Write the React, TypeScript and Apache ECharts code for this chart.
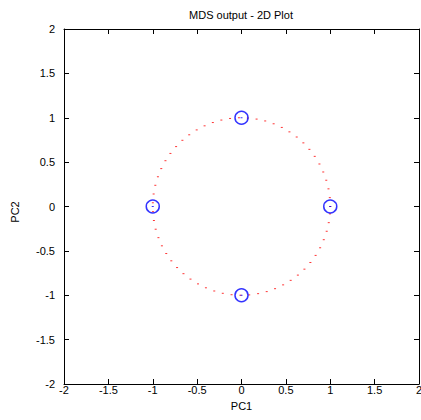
import React, { useEffect, useRef } from "react";
import * as echarts from "echarts";

// MDS output coordinates (red dots)
const mdsX = [
  1.0, 0.995, 0.98, 0.955, 0.921, 0.878, 0.825, 0.765, 0.697, 0.622,
  0.54, 0.454, 0.362, 0.267, 0.17, 0.071, -0.029, -0.129, -0.227, -0.323,
  -0.416, -0.505, -0.589, -0.666, -0.737, -0.801, -0.857, -0.904, -0.942, -0.971,
  -0.99, -0.999, -0.998, -0.987, -0.967, -0.936, -0.897, -0.848, -0.791, -0.726,
  -0.654, -0.575, -0.49, -0.401, -0.307, -0.211, -0.112, -0.012, 0.087, 0.187,
  0.284, 0.378, 0.469, 0.554, 0.635, 0.709, 0.776, 0.835, 0.886, 0.927,
  0.96, 0.983, 0.997,
];
const mdsY = [
  0.0, 0.1, 0.199, 0.296, 0.389, 0.479, 0.565, 0.644, 0.717, 0.783,
  0.841, 0.891, 0.932, 0.964, 0.985, 0.997, 1.0, 0.992, 0.974, 0.946,
  0.909, 0.863, 0.808, 0.746, 0.675, 0.598, 0.516, 0.427, 0.335, 0.239,
  0.141, 0.042, -0.058, -0.158, -0.256, -0.351, -0.443, -0.53, -0.612, -0.688,
  -0.757, -0.818, -0.872, -0.916, -0.952, -0.978, -0.994, -1.0, -0.996, -0.982,
  -0.959, -0.926, -0.883, -0.832, -0.773, -0.706, -0.631, -0.551, -0.465, -0.374,
  -0.279, -0.182, -0.083,
];

// Reference points (blue circles)
const refX = [0, 1, -1, 0];
const refY = [1, 0, 0, -1];

const axisMin = -2;
const axisMax = 2;
const axisStep = 0.5;

const FONT = "'Liberation Sans', Arial, sans-serif";

export default function App() {
  const ref = useRef<HTMLDivElement>(null);

  useEffect(() => {
    if (!ref.current) return;
    const chart = echarts.init(ref.current, undefined, { renderer: "svg" });

    const mdsData = mdsX.map((x, i) => [x, mdsY[i]]);
    const refData = refX.map((x, i) => [x, refY[i]]);

    const baseAxis = {
      type: "value" as const,
      min: axisMin,
      max: axisMax,
      interval: axisStep,
      splitLine: { show: false },
      axisLine: { show: true, onZero: false, lineStyle: { color: "#000", width: 1 } },
      axisTick: { show: true, inside: true, length: 5, lineStyle: { color: "#000" } },
    };

    chart.setOption({
      animation: false,
      backgroundColor: "#fff",
      graphic: [
        {
          type: "text",
          x: 241,
          y: 15,
          style: {
            text: "MDS output - 2D Plot",
            fontFamily: FONT,
            fontSize: 11,
            fill: "#000",
            align: "center",
            verticalAlign: "middle",
          },
        },
        {
          type: "text",
          x: 15,
          y: 212,
          rotation: Math.PI / 2,
          style: {
            text: "PC2",
            fontFamily: FONT,
            fontSize: 11,
            fill: "#000",
            align: "center",
            verticalAlign: "middle",
          },
        },
      ],
      grid: {
        left: 64,
        right: 2,
        top: 29,
        bottom: 36,
        containLabel: false,
        outerBoundsMode: "none",
      },
      xAxis: [
        {
          ...baseAxis,
          position: "bottom",
          name: "PC1",
          nameLocation: "middle",
          nameGap: 16,
          nameTextStyle: { fontFamily: FONT, fontSize: 11, color: "#000" },
          axisLabel: {
            fontFamily: FONT,
            fontSize: 11,
            color: "#000",
            margin: 0,
            showMinLabel: true,
            showMaxLabel: true,
            formatter: (v: number) => String(v),
          },
        },
        {
          ...baseAxis,
          position: "top",
          axisLabel: { show: false },
        },
      ],
      yAxis: [
        {
          ...baseAxis,
          position: "left",
          axisLabel: {
            fontFamily: FONT,
            fontSize: 11,
            color: "#000",
            margin: 9,
            showMinLabel: true,
            showMaxLabel: true,
            formatter: (v: number) => String(v),
          },
        },
        {
          ...baseAxis,
          position: "right",
          axisLabel: { show: false },
        },
      ],
      series: [
        {
          type: "scatter",
          xAxisIndex: 0,
          yAxisIndex: 0,
          data: mdsData,
          symbol: "rect",
          symbolSize: [2, 1],
          itemStyle: { color: "#ff0000" },
          z: 3,
        },
        {
          type: "scatter",
          xAxisIndex: 0,
          yAxisIndex: 0,
          data: refData,
          symbol: "circle",
          symbolSize: 13,
          itemStyle: { color: "transparent", borderColor: "#0000ff", borderWidth: 1.5 },
          z: 4,
        },
        {
          type: "scatter",
          xAxisIndex: 0,
          yAxisIndex: 0,
          data: refData,
          symbol: "rect",
          symbolSize: [2, 1],
          itemStyle: { color: "#0000ff" },
          z: 5,
        },
      ],
    });

    return () => chart.dispose();
  }, []);

  return <div ref={ref} style={{ width: 421, height: 420, position: "absolute", left: 0, top: 0 }} />;
}
